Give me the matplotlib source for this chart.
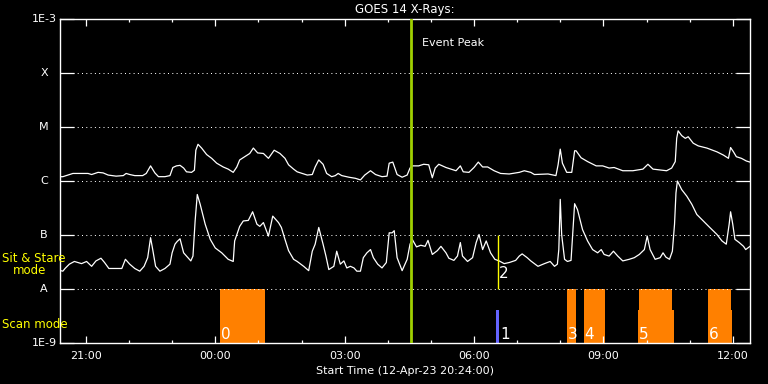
import matplotlib
matplotlib.use('Agg')
import matplotlib.pyplot as plt
import matplotlib.dates as mdates
import pandas as pd
import numpy as np

# ---------------- data ----------------
start_time = pd.Timestamp('2023-04-12 20:24:00')
span_hours = 16

# long channel (upper curve): minutes after start, log10 flux (W/m^2)
long_minutes = [1, 4, 11, 18, 39, 44, 53, 60, 67, 78, 88, 92, 97, 104, 115, 120, 126, 132, 137, 146,
                153, 157, 162, 167, 172, 176, 183, 187, 189, 192, 197, 204, 211, 218, 227, 234, 241, 246, 250, 257,
                264, 269, 275, 283, 290, 298, 306, 313, 318, 325, 330, 344, 351, 355, 360, 366, 371, 378, 383, 387,
                392, 402, 411, 418, 424, 432, 439, 448, 455, 458, 463, 469, 476, 483, 487, 490, 499, 506, 513, 518,
                522, 527, 537, 551, 557, 561, 569, 576, 582, 588, 595, 604, 613, 625, 639, 646, 655, 660, 679, 690,
                693, 696, 699, 705, 712, 716, 718, 725, 734, 746, 755, 764, 771, 783, 797, 811, 818, 825, 837, 844,
                851, 856, 858, 860, 865, 870, 874, 881, 888, 900, 914, 923, 930, 933, 937, 941, 948, 955, 960]
long_log10 = [-5.92, -5.92, -5.89, -5.86, -5.86, -5.88, -5.84, -5.85, -5.89, -5.91, -5.90, -5.86, -5.88, -5.90, -5.90, -5.86, -5.72, -5.85, -5.92, -5.92,
              -5.90, -5.75, -5.72, -5.71, -5.76, -5.83, -5.84, -5.80, -5.43, -5.32, -5.39, -5.51, -5.58, -5.67, -5.74, -5.78, -5.84, -5.74, -5.61, -5.55,
              -5.49, -5.39, -5.48, -5.49, -5.58, -5.43, -5.49, -5.58, -5.70, -5.78, -5.83, -5.89, -5.88, -5.74, -5.61, -5.69, -5.86, -5.92, -5.90, -5.86,
              -5.90, -5.93, -5.95, -5.98, -5.89, -5.81, -5.88, -5.92, -5.91, -5.67, -5.65, -5.88, -5.93, -5.89, -5.76, -5.72, -5.72, -5.69, -5.70, -5.94,
              -5.76, -5.69, -5.75, -5.81, -5.72, -5.83, -5.84, -5.75, -5.65, -5.74, -5.74, -5.81, -5.86, -5.87, -5.84, -5.81, -5.84, -5.88, -5.87, -5.90,
              -5.70, -5.41, -5.67, -5.84, -5.84, -5.44, -5.44, -5.57, -5.64, -5.72, -5.72, -5.76, -5.75, -5.81, -5.81, -5.78, -5.69, -5.78, -5.80, -5.81,
              -5.76, -5.64, -5.21, -5.07, -5.16, -5.21, -5.18, -5.30, -5.35, -5.39, -5.46, -5.52, -5.58, -5.38, -5.46, -5.55, -5.58, -5.63, -5.65]

# short channel (lower curve)
short_minutes = [1, 4, 7, 13, 20, 30, 37, 44, 50, 57, 62, 68, 78, 86, 91, 97, 104, 111, 117, 122,
                 126, 129, 133, 139, 146, 153, 156, 160, 163, 167, 172, 176, 182, 185, 188, 191, 195, 202, 209, 216,
                 225, 234, 241, 243, 250, 255, 262, 268, 274, 278, 283, 290, 296, 304, 308, 313, 318, 325, 330, 339,
                 346, 351, 355, 360, 366, 370, 374, 381, 385, 390, 395, 399, 404, 409, 413, 418, 422, 427, 432, 436,
                 442, 448, 454, 458, 462, 465, 469, 476, 483, 487, 490, 496, 502, 508, 512, 518, 525, 530, 537, 541,
                 548, 553, 557, 560, 567, 574, 579, 583, 588, 593, 599, 605, 611, 618, 625, 634, 639, 643, 650, 655,
                 665, 674, 682, 688, 692, 694, 696, 698, 702, 706, 711, 713, 716, 720, 727, 734, 741, 748, 753, 757,
                 764, 770, 776, 783, 792, 799, 806, 813, 817, 821, 828, 835, 839, 843, 848, 852, 855, 857, 859, 865,
                 872, 879, 886, 895, 904, 914, 921, 927, 931, 933, 936, 939, 945, 951, 954, 960]
short_log10 = [-7.66, -7.67, -7.62, -7.54, -7.49, -7.53, -7.49, -7.58, -7.48, -7.43, -7.51, -7.62, -7.62, -7.62, -7.45, -7.54, -7.62, -7.67, -7.58, -7.42,
               -7.05, -7.27, -7.58, -7.67, -7.62, -7.54, -7.33, -7.17, -7.12, -7.07, -7.33, -7.39, -7.48, -7.39, -6.74, -6.25, -6.43, -6.80, -7.08, -7.24,
               -7.33, -7.45, -7.49, -7.11, -6.84, -6.74, -6.73, -6.57, -6.80, -6.84, -6.77, -7.02, -6.65, -6.77, -6.86, -7.08, -7.29, -7.45, -7.49, -7.58,
               -7.66, -7.30, -7.17, -6.86, -7.17, -7.39, -7.64, -7.58, -7.30, -7.54, -7.48, -7.61, -7.58, -7.61, -7.67, -7.67, -7.42, -7.33, -7.27, -7.42,
               -7.54, -7.61, -7.51, -6.96, -6.96, -6.92, -7.42, -7.66, -7.45, -7.17, -7.08, -7.22, -7.19, -7.21, -7.10, -7.36, -7.29, -7.21, -7.33, -7.43,
               -7.47, -7.39, -7.14, -7.39, -7.49, -7.42, -7.14, -6.99, -7.27, -7.11, -7.33, -7.45, -7.48, -7.53, -7.51, -7.47, -7.39, -7.35, -7.42, -7.48,
               -7.58, -7.53, -7.49, -7.58, -7.54, -7.27, -6.34, -7.00, -7.45, -7.49, -7.47, -7.05, -6.42, -6.53, -6.90, -7.11, -7.27, -7.33, -7.27, -7.36,
               -7.39, -7.30, -7.39, -7.48, -7.45, -7.42, -7.36, -7.27, -7.02, -7.27, -7.45, -7.42, -7.33, -7.41, -7.45, -7.30, -6.80, -6.22, -6.00, -6.16,
               -6.28, -6.43, -6.62, -6.74, -6.86, -6.99, -7.11, -7.17, -6.80, -6.57, -6.80, -7.08, -7.14, -7.21, -7.27, -7.21]

level_values = [1e-9, 1e-8, 1e-7, 1e-6, 1e-5, 1e-4, 1e-3]
level_names = ['1E-9', 'A', 'B', 'C', 'M', 'X', '1E-3']

event_peak_time = '2023-04-13 04:33'
sit_stare_time = '2023-04-13 06:34'
sit_stare_label = '2'

# scan-mode observation segments: start, end, top flux, colour
scan_starts = ['2023-04-13 00:07', '2023-04-13 06:30', '2023-04-13 08:09', '2023-04-13 08:33',
               '2023-04-13 09:50', '2023-04-13 09:48', '2023-04-13 11:26', '2023-04-13 11:26']
scan_ends = ['2023-04-13 01:09', '2023-04-13 06:35', '2023-04-13 08:22', '2023-04-13 09:02',
             '2023-04-13 10:36', '2023-04-13 10:38', '2023-04-13 11:57', '2023-04-13 11:59']
scan_tops = [1e-8, 4.1e-9, 1e-8, 1e-8, 1e-8, 4.1e-9, 1e-8, 4.1e-9]
scan_kinds = ['orange', 'blue', 'orange', 'orange', 'orange', 'orange', 'orange', 'orange']
scan_label_times = ['2023-04-13 00:08', '2023-04-13 06:36', '2023-04-13 08:10',
                    '2023-04-13 08:34', '2023-04-13 09:49', '2023-04-13 11:27']
scan_label_texts = ['0', '1', '3', '4', '5', '6']

# ---------------- plot ----------------
W, H = 768, 384
fig = plt.figure(figsize=(W / 100, H / 100), dpi=100, facecolor='black')
ax = fig.add_axes([60 / W, 41 / H, 690 / W, 324 / H], facecolor='black')
ax.set_yscale('log')

t0 = mdates.date2num(start_time)
t1 = mdates.date2num(start_time + pd.Timedelta(hours=span_hours))

def tnum(s):
    return mdates.date2num(pd.Timestamp(s))

long_t = mdates.date2num(start_time + pd.to_timedelta(long_minutes, unit='min'))
short_t = mdates.date2num(start_time + pd.to_timedelta(short_minutes, unit='min'))

colors = {'orange': '#ff8000', 'blue': '#6464ff'}
for s, e, top, k in zip(scan_starts, scan_ends, scan_tops, scan_kinds):
    ax.bar(tnum(s), top - 1e-9, bottom=1e-9, width=tnum(e) - tnum(s), align='edge',
           color=colors[k], linewidth=0, zorder=1)

for v in level_values[1:-1]:
    ax.axhline(v, color='white', lw=0.72, linestyle=(0, (1, 3.3)), zorder=2)

ax.plot(long_t, 10 ** np.array(long_log10), color='white', lw=0.9, zorder=3)
ax.plot(short_t, 10 ** np.array(short_log10), color='white', lw=0.9, zorder=3)

ax.axvline(tnum(event_peak_time), color='#a0d000', lw=2.0, zorder=4)
ax.vlines(tnum(sit_stare_time), 1e-8, 1e-7, color='#ffff00', lw=1.0, zorder=4)
ax.text(tnum(sit_stare_time), 10 ** -7.72, sit_stare_label, color='white', fontsize=11,
        ha='left', va='center', zorder=5)

for lt, lab in zip(scan_label_times, scan_label_texts):
    ax.text(tnum(lt), 0.012, lab, color='white', fontsize=11, ha='left', va='baseline',
            transform=ax.get_xaxis_transform(), zorder=5)

ax.annotate('Event Peak', xy=(tnum(event_peak_time), 0.926), xycoords=ax.get_xaxis_transform(),
            xytext=(7.5, 0), textcoords='offset points', color='white', fontsize=8,
            ha='left', va='center')

ax.set_xlim(t0, t1)
ax.set_ylim(1e-9, 1e-3)

ax.set_yticks(level_values)
ax.set_yticklabels([''] * len(level_values))
ax.yaxis.set_minor_locator(matplotlib.ticker.NullLocator())
ax.tick_params(axis='y', which='major', direction='in', length=10, width=0.9,
               color='white', left=True, right=True)
ytr = ax.get_yaxis_transform()
for v, n in zip(level_values, level_names):
    if n.startswith('1E'):
        ax.text(-0.005, v, n, transform=ytr, color='white', fontsize=8, ha='right', va='center')
    else:
        ax.text(-0.023, v, n, transform=ytr, color='white', fontsize=8, ha='center', va='center')

ax.xaxis.set_major_locator(mdates.HourLocator(byhour=range(0, 24, 3)))
ax.xaxis.set_minor_locator(mdates.HourLocator())
ax.xaxis.set_major_formatter(mdates.DateFormatter('%H:%M'))
ax.tick_params(axis='x', which='major', direction='in', length=5, width=0.9, color='white',
               top=True, bottom=True, labelcolor='white', labelsize=8, pad=6)
ax.tick_params(axis='x', which='minor', direction='in', length=2.5, width=0.9, color='white',
               top=True, bottom=True)
ax.set_xlabel('Start Time (12-Apr-23 20:24:00)', color='white', fontsize=8, labelpad=3)

for sp in ax.spines.values():
    sp.set_color('white')
    sp.set_linewidth(1.0)

fig.text(405 / W, 1 - 10 / H, 'GOES 14 X-Rays:', color='white', fontsize=8.5, ha='center', va='center')
fig.text(2 / W, 1 - 259 / H, 'Sit & Stare', color='#ffff00', fontsize=8.5, ha='left', va='center')
fig.text(13 / W, 1 - 271 / H, 'mode', color='#ffff00', fontsize=8.5, ha='left', va='center')
fig.text(2 / W, 1 - 324 / H, 'Scan mode', color='#ffff00', fontsize=8.5, ha='left', va='center')

fig.savefig('out.png', dpi=100, facecolor='black')
